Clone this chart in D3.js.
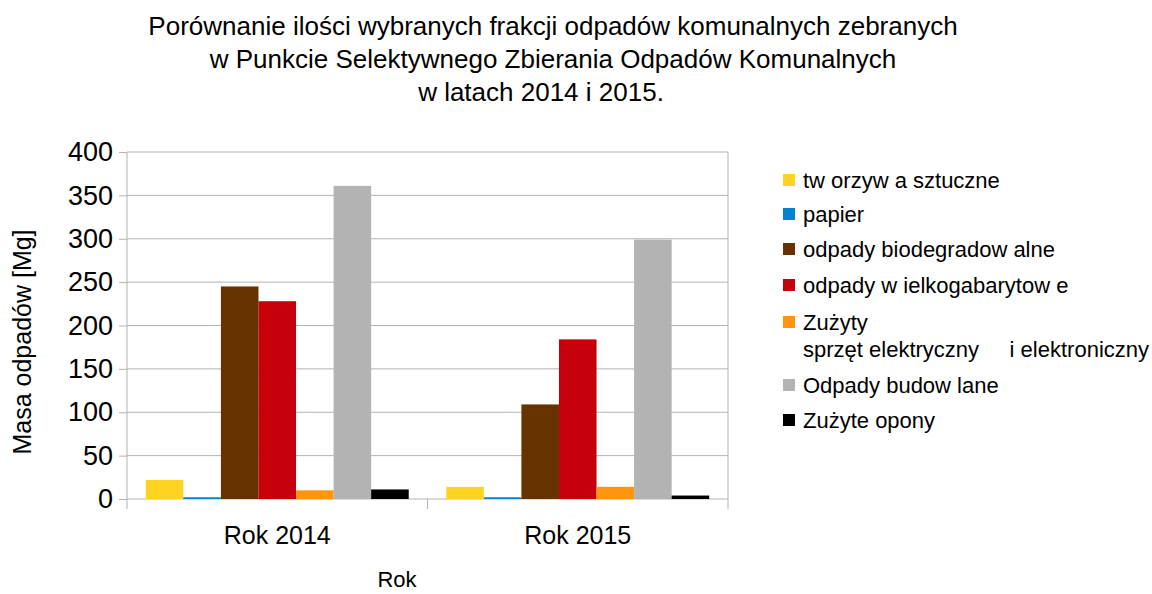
<!DOCTYPE html>
<html>
<head>
<meta charset="utf-8">
<script src="https://cdn.jsdelivr.net/npm/d3@7"></script>
<style>
  body { margin: 0; background: #fff; }
  text { font-family: "Liberation Sans", Arial, sans-serif; fill: #000; }
</style>
</head>
<body>
<svg width="1152" height="594"></svg>
<script>
var years = ["Rok 2014", "Rok 2015"];
var fractions = ["tw orzyw a sztuczne", "papier", "odpady biodegradow alne", "odpady w ielkogabarytow e",
    "Zużyty\nsprzęt elektryczny     i elektroniczny", "Odpady budow lane", "Zużyte opony"];
var values2014 = [22, 2, 245, 228, 10, 361, 11];
var values2015 = [14, 2, 109, 184, 14, 299, 4];
var colors = ["#ffd320", "#0084d1", "#663300", "#c5000b", "#ff950e", "#b3b3b3", "#000000"];
var yTicks = [0, 50, 100, 150, 200, 250, 300, 350, 400];
var titleLines = ["Porównanie ilości wybranych frakcji odpadów komunalnych zebranych",
    "w Punkcie Selektywnego Zbierania Odpadów Komunalnych",
    "w latach 2014 i 2015."];

var series = [values2014, values2015];

var svg = d3.select("svg"),
    margin = {top: 152, left: 127},
    width = 601,
    height = 347,
    g = svg.append("g").attr("transform", "translate(" + margin.left + "," + margin.top + ")");

var x0 = d3.scaleBand().domain(years).range([0, width]);
var x1 = d3.scaleBand().domain(d3.range(fractions.length))
    .range([0, x0.bandwidth()]).paddingOuter(0.5);
var y = d3.scaleLinear().domain([0, 400]).range([height, 0]);

// grid
g.append("g").selectAll("line")
    .data(yTicks)
    .enter().append("line")
    .attr("x1", 0).attr("x2", width)
    .attr("y1", function(d) { return y(d); })
    .attr("y2", function(d) { return y(d); })
    .attr("stroke", "#b3b3b3").attr("stroke-width", 1);

// bars
g.append("g").selectAll("g")
    .data(series)
    .enter().append("g")
    .attr("transform", function(d, i) { return "translate(" + x0(years[i]) + ",0)"; })
    .selectAll("rect")
    .data(function(d) { return d.map(function(v, k) { return {k: k, v: v}; }); })
    .enter().append("rect")
    .attr("x", function(d) { return x1(d.k); })
    .attr("y", function(d) { return y(d.v); })
    .attr("width", x1.bandwidth())
    .attr("height", function(d) { return height - y(d.v); })
    .attr("fill", function(d) { return colors[d.k]; });

// y axis
var yAxis = g.append("g")
    .call(d3.axisLeft(y).tickValues(yTicks).tickSize(8).tickPadding(6));
yAxis.select(".domain").remove();
yAxis.selectAll(".tick line").attr("stroke", "#b3b3b3");
yAxis.selectAll(".tick text").attr("font-size", 27).attr("font-family", "Liberation Sans, Arial, sans-serif");
g.append("line").attr("x1", 0).attr("x2", 0).attr("y1", 0).attr("y2", height + 10)
    .attr("stroke", "#b3b3b3");
g.append("line").attr("x1", width).attr("x2", width).attr("y1", 0).attr("y2", height + 10)
    .attr("stroke", "#b3b3b3");
g.append("line").attr("x1", x0.step()).attr("x2", x0.step()).attr("y1", height).attr("y2", height + 10)
    .attr("stroke", "#b3b3b3");

// x axis labels
var xAxis = g.append("g").attr("transform", "translate(0," + height + ")")
    .call(d3.axisBottom(x0).tickSize(0).tickPadding(27));
xAxis.select(".domain").remove();
xAxis.selectAll(".tick text").attr("font-size", 25).attr("font-family", "Liberation Sans, Arial, sans-serif");

// titles
svg.append("text")
    .attr("text-anchor", "middle")
    .attr("font-size", 26)
    .selectAll("tspan")
    .data(titleLines)
    .enter().append("tspan")
    .attr("x", function(d, i) { return i == 2 ? 541 : 553; })
    .attr("y", function(d, i) { return 35 + i * 33; })
    .text(function(d) { return d; });

svg.append("text").attr("x", 397).attr("y", 587)
    .attr("text-anchor", "middle").attr("font-size", 22).text("Rok");

svg.append("text")
    .attr("transform", "translate(31,342) rotate(-90)")
    .attr("text-anchor", "middle").attr("font-size", 25)
    .text("Masa odpadów [Mg]");

// legend
var legendY = [180, 214, 249, 285, 322, 385, 420];
var legend = svg.append("g").selectAll("g")
    .data(fractions)
    .enter().append("g")
    .attr("transform", function(d, i) { return "translate(783," + legendY[i] + ")"; });
legend.append("rect")
    .attr("x", 0).attr("y", -6).attr("width", 12).attr("height", 12)
    .attr("fill", function(d, i) { return colors[i]; });
legend.append("text")
    .attr("font-size", 22)
    .style("white-space", "pre")
    .selectAll("tspan")
    .data(function(d) { return d.split("\n"); })
    .enter().append("tspan")
    .attr("x", 20)
    .attr("y", function(d, i) { return 8 + i * 27; })
    .text(function(d) { return d; });
</script>
</body>
</html>
